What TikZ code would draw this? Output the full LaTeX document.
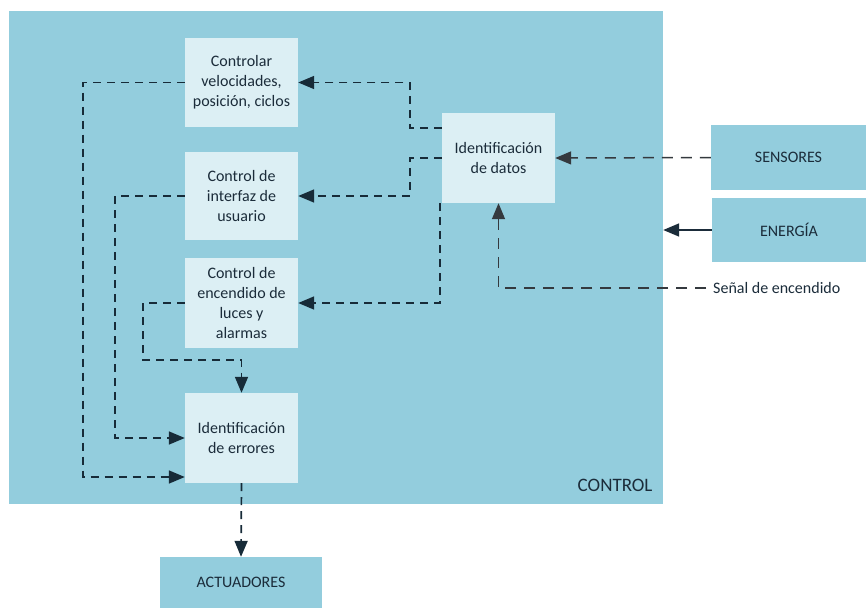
\documentclass[tikz,border=0pt]{standalone}
\usepackage{fontspec}
\setmainfont{Carlito}
\usetikzlibrary{arrows.meta}
\definecolor{panel}{HTML}{93CDDD}
\definecolor{card}{HTML}{DCEFF4}
\definecolor{ink}{HTML}{1B2C3A}
\definecolor{wire}{HTML}{172B38}
\definecolor{greywire}{HTML}{34393E}
\tikzset{
  panelbox/.style={fill=panel, draw=none, inner sep=0pt},
  cardbox/.style={fill=card, draw=none, inner sep=0pt, align=center,
    text=ink, font=\fontsize{16}{20}\selectfont},
  sidebox/.style={fill=panel, draw=none, inner sep=0pt, align=center,
    text=ink, font=\fontsize{16}{20}\selectfont},
  arrowtip/.style={-{Triangle[length=16pt,width=13pt]}},
  dashwire/.style={draw=wire, line width=1.7pt, dash pattern=on 8pt off 6pt, arrowtip},
  feedwire/.style={draw=greywire, line width=1.5pt, dash pattern=on 11pt off 8pt, arrowtip},
  powerwire/.style={draw=ink, line width=1.7pt, arrowtip},
}
\begin{document}
\begin{tikzpicture}[x=1pt,y=-1pt]
\useasboundingbox (0,0) rectangle (866,608);
\fill[white] (0,0) rectangle (866,608);

% control block
\node[panelbox, minimum width=654pt, minimum height=493pt] (ctrl) at (336,257.5) {};
\node[anchor=east, text=ink, font=\fontsize{19}{22}\selectfont] (ctrllbl) at (656,485) {CONTROL};

% inner function blocks
\node[cardbox, minimum width=113pt, minimum height=89pt] (ctl1) at (241.5,82.5)
  {Controlar\\velocidades,\\posición, ciclos};
\node[cardbox, minimum width=113pt, minimum height=88pt] (ctl2) at (241.5,196)
  {Control de\\interfaz de\\usuario};
\node[cardbox, minimum width=113pt, minimum height=90pt] (ctl3) at (241.5,303)
  {Control de\\encendido de\\luces y\\alarmas};
\node[cardbox, minimum width=113pt, minimum height=90pt] (err) at (241.5,438)
  {Identificación\\de errores};
\node[cardbox, minimum width=113pt, minimum height=90pt] (idd) at (498.5,158)
  {Identificación\\de datos};

% external blocks
\node[sidebox, minimum width=155pt, minimum height=65pt] (sens) at (788.5,157.5) {SENSORES};
\node[sidebox, minimum width=154pt, minimum height=64pt] (ener) at (789,230) {ENERGÍA};
\node[sidebox, minimum width=162pt, minimum height=51pt] (act) at (241,582.5) {ACTUADORES};
\node[anchor=west, inner sep=0pt, text=ink, font=\fontsize{16}{20}\selectfont] (senal) at (713,288)
  {Señal de encendido};
\coordinate (ctrlin) at (ctrl.east |- ener.west);
\coordinate (senalend) at ([xshift=-7pt]senal.west);

% data identification to the three controllers
\draw[dashwire] (idd.west |- 0,128) -- (410,128) -- (410,82.5) -- (ctl1.east);
\draw[dashwire] (idd.west |- 0,158) -- (410,158) -- (410,196) -- (ctl2.east);
\draw[dashwire] ([xshift=-2pt]idd.south west) -- ([xshift=-2pt]idd.west |- ctl3.east) -- (ctl3.east);

% controllers to error identification
\draw[dashwire] (ctl1.west) -- (83,82.5) -- (83,477) -- (err.west |- 0,477);
\draw[dashwire] (ctl2.west) -- (115,196) -- (115,438) -- (err.west);
\draw[dashwire] (ctl3.west) -- (143,303) -- (143,360) -- (241.5,360) -- (err.north);

% outputs and inputs
\draw[dashwire] (err.south) -- (act.north);
\draw[feedwire] (sens.west) -- (idd.east);
\draw[powerwire] (ener.west) -- (ctrlin);
\draw[feedwire] (senalend) -- (idd.south |- senalend) -- (idd.south);
\end{tikzpicture}
\end{document}
